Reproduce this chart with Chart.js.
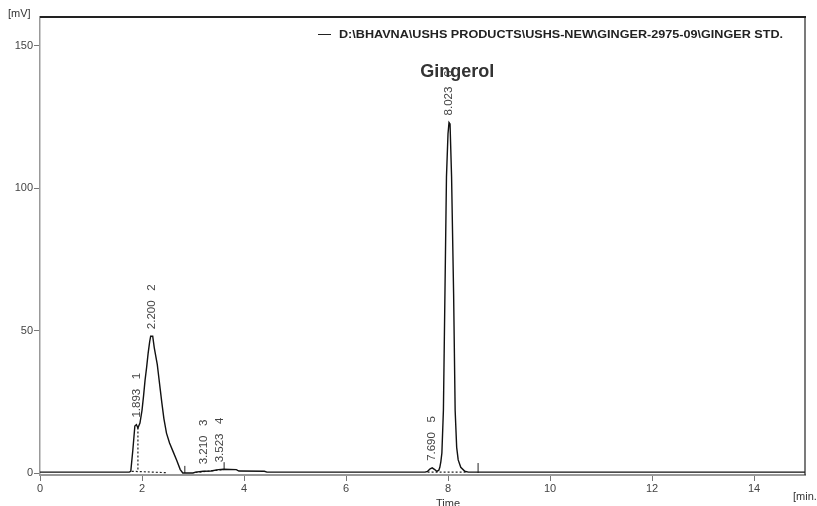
<!DOCTYPE html>
<html>
<head>
<meta charset="utf-8">
<script src="https://cdn.jsdelivr.net/npm/chart.js@4.4.0/dist/chart.umd.min.js"></script>
<style>
html,body{margin:0;padding:0;background:#fff;}
#wrap{width:817px;height:506px;}
</style>
</head>
<body>
<div id="wrap"><canvas id="c" width="817" height="506"></canvas></div>
<script>
// ---- Data ----
const times = [0, 1.0, 1.75, 1.78, 1.82, 1.86, 1.89, 1.92, 1.96, 2.0, 2.03, 2.06, 2.09, 2.12, 2.15, 2.17, 2.21, 2.24, 2.27, 2.30, 2.32, 2.36, 2.39, 2.43, 2.48, 2.54, 2.61, 2.68, 2.75, 2.80, 2.85, 3.0, 3.05, 3.2, 3.35, 3.5, 3.6, 3.85, 3.9, 4.4, 4.45, 5.5, 7.55, 7.6, 7.65, 7.69, 7.74, 7.78, 7.82, 7.84, 7.86, 7.88, 7.91, 7.94, 7.97, 8.00, 8.02, 8.04, 8.07, 8.11, 8.14, 8.17, 8.20, 8.25, 8.33, 8.40, 15.0];
const signal = [0.3, 0.3, 0.3, 0.6, 8, 16.5, 17, 15.8, 17.5, 22, 27, 32.6, 37, 42, 46, 48, 48, 44, 41, 38, 35, 29, 24.5, 19, 14, 10.5, 7.5, 4.5, 1.2, 0, 0, 0, 0.3, 0.6, 0.7, 1.2, 1.3, 1.2, 0.7, 0.6, 0.3, 0.3, 0.3, 0.6, 1.5, 1.8, 1.2, 0.6, 1.0, 2, 4, 7, 22, 63, 104, 119, 123, 122.5, 104, 63, 22, 9, 4.6, 2, 0.6, 0.3, 0.3];

// dotted integration baselines / drop lines (null = gap)
const baseTimes  = [1.92, 1.92, null, 1.80, 2.50, null, 3.05, 3.60, null, 7.60, 8.35];
const baseValues = [16.0, 0.5, null, 0.6, 0.1, null, 0.2, 1.2, null, 0.3, 0.3];

// peak start/end markers
const markTimes  = [2.84, 2.84, null, 3.61, 3.61, null, 8.59, 8.59];
const markValues = [0, 2.5, null, 1.2, 3.8, null, 0, 3.5];

// peak annotations
const peakTimes   = [1.893, 2.200, 3.210, 3.523, 7.690, 8.023];
const peakHeights = [17, 48, 0.6, 1.3, 1.8, 123];
const peakNumbers = ['1', '2', '3', '4', '5', '6'];

const xTicks = [0, 2, 4, 6, 8, 10, 12, 14];
const yTicks = [0, 50, 100, 150];

const legendText = 'D:\\BHAVNA\\USHS PRODUCTS\\USHS-NEW\\GINGER-2975-09\\GINGER STD.';
const compoundName = 'Gingerol';

// ---- build point lists ----
function pts(xs, ys){
  return xs.map((x,i)=> x===null ? {x: NaN, y: null} : {x: x, y: ys[i]});
}

const FONT = 'Arial, "Liberation Sans", sans-serif';

const overlay = {
  id: 'overlay',
  afterDraw(chart){
    const ctx = chart.ctx;
    const xs = chart.scales.x, ys = chart.scales.y;
    const a = chart.chartArea;
    ctx.save();
    // frame: top and right borders
    ctx.strokeStyle = '#222';
    ctx.lineWidth = 2;
    ctx.beginPath(); ctx.moveTo(a.left, a.top); ctx.lineTo(a.right + 1, a.top); ctx.stroke();
    ctx.lineWidth = 1.2;
    ctx.beginPath(); ctx.moveTo(a.right, a.top); ctx.lineTo(a.right, a.bottom); ctx.stroke();

    // unit labels
    ctx.fillStyle = '#333';
    ctx.font = '11px ' + FONT;
    ctx.textAlign = 'left'; ctx.textBaseline = 'middle';
    ctx.fillText('[mV]', 8, 14);
    ctx.fillText('[min.', a.right - 12, 497);
    ctx.textAlign = 'center';
    ctx.fillText('Time', xs.getPixelForValue(8), 504);

    // legend (stretched horizontally to the width it takes in the original)
    ctx.strokeStyle = '#222'; ctx.lineWidth = 1;
    ctx.beginPath(); ctx.moveTo(318, 34.5); ctx.lineTo(331, 34.5); ctx.stroke();
    ctx.font = 'bold 10.5px ' + FONT;
    ctx.fillStyle = '#222';
    ctx.textAlign = 'left';
    const w = ctx.measureText(legendText).width;
    ctx.save();
    ctx.translate(339, 35);
    ctx.scale(444 / w, 1);
    ctx.fillText(legendText, 0, 0);
    ctx.restore();

    // peak labels (rotated)
    ctx.font = '11.5px ' + FONT;
    ctx.fillStyle = '#444';
    peakTimes.forEach((t,i)=>{
      const px = xs.getPixelForValue(t);
      const py = ys.getPixelForValue(peakHeights[i]) - 7;
      ctx.save();
      ctx.translate(px, py);
      ctx.rotate(-Math.PI/2);
      ctx.textAlign = 'left'; ctx.textBaseline = 'middle';
      ctx.fillText(t.toFixed(3) + '   ' + peakNumbers[i], 0, 0);
      ctx.restore();
    });

    // compound name
    ctx.font = 'bold 18px ' + FONT;
    ctx.fillStyle = '#333';
    ctx.textAlign = 'center'; ctx.textBaseline = 'middle';
    ctx.fillText(compoundName, xs.getPixelForValue(8.18), 72);
    ctx.restore();
  }
};

new Chart(document.getElementById('c'), {
  type: 'line',
  data: {
    datasets: [
      { data: pts(times, signal), borderColor: '#111', borderWidth: 1.4, pointRadius: 0, tension: 0, spanGaps: false },
      { data: pts(baseTimes, baseValues), borderColor: '#222', borderWidth: 1.2, borderDash: [2, 2], pointRadius: 0, spanGaps: false },
      { data: pts(markTimes, markValues), borderColor: '#222', borderWidth: 1, pointRadius: 0, spanGaps: false }
    ]
  },
  options: {
    responsive: false,
    devicePixelRatio: 1,
    animation: false,
    parsing: true,
    layout: { padding: { top: 17, right: 12, left: 0, bottom: 0 } },
    plugins: { legend: { display: false }, tooltip: { enabled: false } },
    scales: {
      x: {
        type: 'linear', min: 0, max: 15, position: 'bottom',
        afterBuildTicks: s => { s.ticks = xTicks.map(v => ({ value: v })); },
        afterFit: s => { s.height = 31; },
        ticks: { color: '#444', font: { size: 11, family: FONT }, padding: 1, maxRotation: 0, autoSkip: false },
        grid: { drawOnChartArea: false, tickLength: 6, color: '#777', tickWidth: 1 },
        border: { color: '#999', width: 2 }
      },
      y: {
        type: 'linear', min: -0.7, max: 160,
        afterBuildTicks: s => { s.ticks = yTicks.map(v => ({ value: v })); },
        afterFit: s => { s.width = 40; },
        ticks: { color: '#444', font: { size: 11, family: FONT }, padding: 1 },
        grid: { drawOnChartArea: false, tickLength: 6, color: '#777', tickWidth: 1 },
        border: { color: '#999', width: 1.5 }
      }
    }
  },
  plugins: [overlay]
});
</script>
</body>
</html>
